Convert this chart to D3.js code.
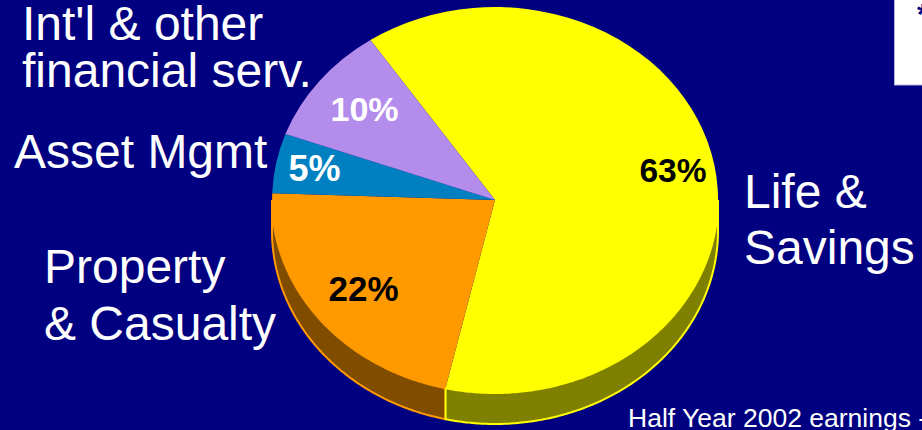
<!DOCTYPE html>
<html>
<head>
<meta charset="utf-8">
<script src="https://cdn.jsdelivr.net/npm/d3@7"></script>
<style>
  html, body { margin: 0; padding: 0; background: #000080; overflow: hidden; }
  text { font-family: "Liberation Sans", Arial, sans-serif; }
</style>
</head>
<body>
<div id="chart"></div>
<script>
// Slices, clockwise from the yellow one
const categories = ['Life & Savings', 'Property & Casualty', 'Asset Mgmt', "Int'l & other financial serv."];
const shares = [63, 22, 5, 10];
const shareLabels = ['63%', '22%', '5%', '10%'];
const faceColors = ['#ffff00', '#ff9900', '#0080c0', '#b38cec'];
const wallColors = ['#808000', '#804d00', '#004060', '#5a4676'];

let
w = 922, // Width of the picture
h = 430, // Height of the picture
cx = 495, // Centre of the pie top
cy = 200,
rx = 223, // Pie is squashed, so two radii
ry = 193,
depth = 31, // Height of the extruded wall
deg = Math.PI / 180,

svg = d3.select('#chart').
append('svg').
attr('width', w).
attr('height', h).
style('display', 'block'),

pie = d3.pie().
sort(null).
startAngle(-34 * deg).
endAngle(326 * deg),

slices = pie(shares),

arc = d3.arc().
innerRadius(0).
outerRadius(1),

// d3 angles are measured clockwise from 12 o'clock
px = a => cx + rx * Math.sin(a),
py = a => cy - ry * Math.cos(a),

line = d3.line();

svg.append('rect').
attr('width', w).
attr('height', h).
attr('fill', '#000080');

// Front wall: only the part of each slice between 3 and 9 o'clock shows.
// Drawn from the left so the yellow edge ends up on top at the seam.
slices.slice().reverse().forEach(d => {
  let a0 = Math.max(d.startAngle, 90 * deg),
  a1 = Math.min(d.endAngle, 270 * deg);
  if (a1 <= a0) {return;}
  let angles = d3.range(a0, a1, 0.01).concat([a1]),
  top = angles.map(a => [px(a), py(a)]),
  bottom = angles.map(a => [px(a), py(a) + depth]).reverse();
  svg.append('path').
  attr('d', line(top.concat(bottom)) + 'Z').
  attr('fill', wallColors[d.index]).
  attr('stroke', faceColors[d.index]).
  attr('stroke-width', 2);
});

// Pie top
svg.append('g').
attr('transform', 'translate(' + cx + ',' + cy + ') scale(' + rx + ',' + ry + ')').
selectAll('path').
data(slices).
enter().
append('path').
attr('d', arc).
attr('fill', d => faceColors[d.index]);

// Percent labels
const labelX = [673, 363.5, 314.5, 364.5], labelY = [182, 301, 181, 121], labelSize = [33.5, 35, 36, 34];
svg.selectAll('text.pct').
data(slices).
enter().
append('text').
attr('class', 'pct').
attr('x', d => labelX[d.index]).
attr('y', d => labelY[d.index]).
attr('text-anchor', 'middle').
attr('font-size', d => labelSize[d.index]).
attr('font-weight', 'bold').
attr('fill', d => d.index < 2 ? '#000000' : '#ffffff').
text(d => shareLabels[d.index]);

// Category labels, broken over lines by hand like the slide
const nameLines = [
  ['Life &', 'Savings'],
  ['Property', '& Casualty'],
  ['Asset Mgmt'],
  ["Int'l & other", 'financial serv.']
];
const nameX = [744, 44, 14, 22], nameY = [208, 283, 168, 40], nameGap = [56, 57, 0, 47];

nameLines.forEach((lines, i) => {
  lines.forEach((t, j) => {
    svg.append('text').
    attr('x', nameX[i]).
    attr('y', nameY[i] + j * nameGap[i]).
    attr('font-size', 48).
    attr('fill', '#ffffff').
    text(t);
  });
});

// Cut-off footnote and box from the slide
svg.append('text').
attr('x', 628).
attr('y', 427).
attr('font-size', 26.5).
attr('fill', '#ffffff').
text('Half Year 2002 earnings -');

svg.append('rect').
attr('x', 894.5).
attr('y', -2).
attr('width', 40).
attr('height', 87).
attr('fill', '#ffffff').
attr('stroke', '#b3b3e0');

svg.append('text').
attr('x', 917).
attr('y', 24).
attr('font-size', 30).
attr('font-weight', 'bold').
attr('fill', '#000080').
text('*');
</script>
</body>
</html>
